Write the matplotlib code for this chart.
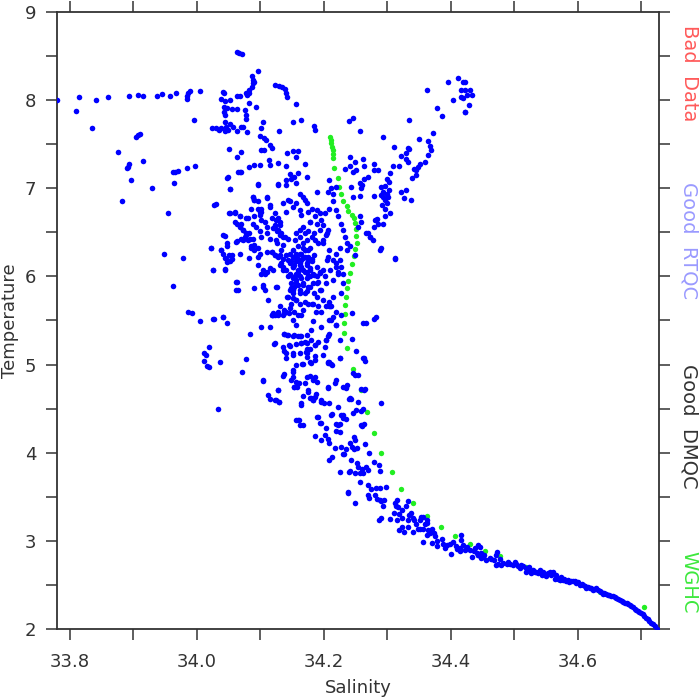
import numpy as np
import matplotlib
matplotlib.use("Agg")
import matplotlib.pyplot as plt
from matplotlib.ticker import MultipleLocator

# WGHC climatology profile (green)
wghc = [(34.210, 7.58), (34.211, 7.55), (34.212, 7.51), (34.213, 7.47), (34.214, 7.43),
        (34.215, 7.39), (34.215, 7.34), (34.217, 7.23), (34.222, 7.12), (34.224, 7.01),
        (34.228, 6.93), (34.231, 6.86), (34.236, 6.80), (34.239, 6.74), (34.244, 6.70),
        (34.247, 6.66), (34.250, 6.61), (34.251, 6.54), (34.251, 6.46), (34.252, 6.38),
        (34.250, 6.31), (34.247, 6.23), (34.244, 6.14), (34.241, 6.04), (34.238, 5.95),
        (34.236, 5.87), (34.235, 5.77), (34.233, 5.68), (34.233, 5.57), (34.232, 5.47),
        (34.232, 5.36), (34.236, 5.19), (34.246, 4.95), (34.258, 4.71), (34.268, 4.46),
        (34.279, 4.22), (34.291, 4.00), (34.307, 3.78), (34.321, 3.59), (34.340, 3.43),
        (34.362, 3.28), (34.384, 3.16), (34.406, 3.05), (34.430, 2.96), (34.454, 2.88),
        (34.477, 2.83), (34.518, 2.70), (34.572, 2.56), (34.635, 2.42), (34.704, 2.25)]

# Argo profiles (blue), grouped by area of the diagram
left_fringe = [(33.780, 8.00), (33.810, 7.88), (33.814, 8.03), (33.835, 7.68), (33.842, 8.00),
               (33.860, 8.04), (33.893, 8.05), (33.907, 8.06), (33.915, 8.05), (33.937, 8.05),
               (33.945, 8.07), (33.958, 8.05), (33.967, 8.08), (33.984, 8.01), (33.985, 8.05),
               (33.987, 8.08), (33.989, 8.10), (34.006, 8.10), (33.996, 7.78),
               (33.876, 7.41), (33.892, 7.24), (33.894, 7.27), (33.891, 7.23), (33.896, 7.09),
               (33.905, 7.58), (33.908, 7.60), (33.911, 7.61), (33.916, 7.31), (33.882, 6.85),
               (33.929, 7.00), (33.963, 7.18), (33.966, 7.19), (33.970, 7.20), (33.965, 7.06),
               (33.955, 6.72), (33.984, 7.23), (33.948, 6.25), (33.978, 6.21), (33.962, 5.89),
               (33.987, 5.60), (34.019, 5.20), (34.044, 6.46)]

upper_cap = [(34.063, 8.55), (34.066, 8.53), (34.071, 8.52), (34.096, 8.33), (34.087, 8.27),
             (34.089, 8.23), (34.089, 8.19), (34.090, 8.20), (34.087, 8.15), (34.083, 8.12),
             (34.082, 8.08), (34.079, 8.06), (34.077, 8.08), (34.064, 8.05), (34.068, 8.05),
             (34.041, 8.09), (34.043, 8.08), (34.039, 8.01), (34.044, 7.99), (34.052, 8.00),
             (34.043, 7.92), (34.047, 7.91), (34.056, 7.90), (34.063, 7.90), (34.082, 7.97),
             (34.094, 7.92), (34.076, 7.89), (34.078, 7.83), (34.077, 7.79), (34.043, 7.87),
             (34.044, 7.83), (34.024, 7.68), (34.031, 7.68), (34.035, 7.66), (34.039, 7.68),
             (34.046, 7.69), (34.052, 7.73), (34.057, 7.69), (34.044, 7.75), (34.044, 7.65),
             (34.049, 7.66), (34.063, 7.65), (34.069, 7.70), (34.073, 7.70), (34.079, 7.64),
             (34.104, 7.75), (34.101, 7.68), (34.124, 8.17), (34.129, 8.16), (34.134, 8.15),
             (34.139, 8.13), (34.141, 8.08), (34.143, 8.04), (34.157, 7.96), (34.129, 7.65),
             (34.152, 7.75)]

core = [(33.997, 7.25), (34.051, 7.44), (34.063, 7.36), (34.069, 7.41), (34.048, 7.12),
        (34.052, 6.99), (34.065, 7.18), (34.069, 7.19), (34.082, 7.24), (34.090, 7.26),
        (34.099, 7.26), (34.102, 7.43), (34.106, 7.43), (34.099, 7.59), (34.106, 7.57),
        (34.109, 7.55), (34.116, 7.49), (34.118, 7.46), (34.114, 7.32), (34.128, 7.29),
        (34.115, 7.26), (34.142, 7.40), (34.152, 7.42), (34.160, 7.42), (34.156, 7.36),
        (34.141, 7.25), (34.147, 7.16), (34.153, 7.13), (34.149, 7.10), (34.156, 7.06),
        (34.170, 7.28), (34.173, 7.13), (34.160, 7.17), (34.097, 7.05), (34.128, 7.05),
        (34.141, 7.09), (34.031, 6.82), (34.052, 6.72), (34.060, 6.73), (34.068, 6.69),
        (34.063, 6.60), (34.068, 6.56), (34.073, 6.53), (34.078, 6.47), (34.073, 6.41),
        (34.063, 6.40), (34.048, 6.38), (34.039, 6.30), (34.023, 6.32), (34.042, 6.26),
        (34.051, 6.24), (34.055, 6.20), (34.047, 6.16), (34.044, 6.08), (34.026, 6.07),
        (34.063, 5.94), (34.065, 5.85), (34.070, 6.43), (34.084, 6.43), (34.091, 6.36),
        (34.097, 6.32), (34.086, 6.32), (34.089, 6.90), (34.091, 6.87), (34.097, 6.85),
        (34.102, 6.77), (34.086, 6.77), (34.099, 6.73), (34.110, 6.89), (34.115, 6.79),
        (34.118, 6.66), (34.128, 6.66), (34.131, 6.62), (34.124, 6.58), (34.120, 6.55),
        (34.110, 6.56), (34.107, 6.62), (34.102, 6.64), (34.081, 6.66), (34.089, 6.60),
        (34.094, 6.56), (34.099, 6.51), (34.102, 6.45), (34.110, 6.49), (34.126, 6.51),
        (34.131, 6.47), (34.139, 6.45), (34.115, 6.43), (34.126, 6.38), (34.136, 6.36),
        (34.133, 6.30), (34.118, 6.28), (34.123, 6.24), (34.128, 6.22), (34.136, 6.20),
        (34.144, 6.19), (34.141, 6.24), (34.131, 6.13), (34.136, 6.11), (34.147, 6.15),
        (34.152, 6.11), (34.157, 6.17), (34.162, 6.13), (34.165, 6.19), (34.170, 6.22),
        (34.175, 6.17), (34.181, 6.20), (34.168, 6.07), (34.173, 6.05), (34.178, 6.09),
        (34.160, 6.05), (34.147, 6.03), (34.152, 5.98), (34.157, 5.96), (34.149, 5.92),
        (34.154, 5.88), (34.147, 5.85), (34.152, 5.81), (34.144, 5.77), (34.157, 5.73),
        (34.149, 5.69), (34.147, 5.64), (34.141, 5.60), (34.154, 5.60), (34.160, 5.56),
        (34.168, 5.62), (34.162, 5.69), (34.170, 5.81), (34.175, 5.88), (34.168, 5.92),
        (34.183, 5.92), (34.191, 5.94), (34.189, 6.00), (34.194, 6.05), (34.199, 6.07),
        (34.202, 6.00), (34.204, 5.92), (34.196, 5.85), (34.189, 5.77), (34.183, 5.69),
        (34.191, 5.66), (34.196, 5.60), (34.204, 5.66), (34.209, 5.71), (34.212, 5.66),
        (34.220, 5.60), (34.215, 5.54), (34.209, 5.50), (34.220, 5.45), (34.244, 5.58),
        (34.262, 5.47), (34.280, 5.52), (34.102, 6.03), (34.110, 6.05), (34.105, 5.90),
        (34.126, 5.88), (34.112, 5.73), (34.118, 5.56), (34.120, 5.58), (34.128, 5.60),
        (34.136, 5.56), (34.115, 5.43), (34.102, 5.43), (34.042, 5.54), (34.047, 5.47),
        (34.028, 5.52), (34.005, 5.49), (33.992, 5.59),
        (34.162, 6.94), (34.168, 6.90), (34.170, 6.87), (34.173, 6.83), (34.157, 6.83),
        (34.152, 6.79), (34.147, 6.85), (34.141, 6.73), (34.162, 6.75), (34.165, 6.70),
        (34.175, 6.73), (34.181, 6.77), (34.189, 6.75), (34.194, 6.72), (34.186, 6.68),
        (34.178, 6.62), (34.168, 6.56), (34.162, 6.53), (34.170, 6.49), (34.175, 6.51),
        (34.181, 6.45), (34.186, 6.41), (34.191, 6.38), (34.199, 6.41), (34.204, 6.47),
        (34.207, 6.53), (34.199, 6.58), (34.196, 6.64), (34.202, 6.72), (34.209, 6.77),
        (34.215, 6.85), (34.220, 6.75), (34.223, 6.68), (34.228, 6.60), (34.231, 6.53),
        (34.233, 6.45), (34.236, 6.38), (34.236, 6.30), (34.225, 6.32), (34.220, 6.26),
        (34.215, 6.19), (34.207, 6.22), (34.209, 6.30), (34.220, 6.15), (34.228, 6.11),
        (34.231, 6.03), (34.223, 6.05), (34.189, 6.96), (34.209, 7.09), (34.212, 7.00),
        (34.215, 6.94), (34.207, 6.96), (34.220, 7.02),
        (34.147, 6.26), (34.152, 6.22), (34.157, 6.26), (34.149, 6.17), (34.154, 6.13),
        (34.160, 6.20), (34.162, 6.26), (34.170, 6.30), (34.165, 6.11), (34.157, 6.03),
        (34.162, 6.00), (34.141, 6.07), (34.144, 6.00), (34.149, 5.87), (34.160, 5.90),
        (34.152, 5.75), (34.162, 5.85), (34.173, 5.98), (34.178, 6.00), (34.183, 6.03),
        (34.173, 6.15), (34.168, 6.32), (34.175, 6.30), (34.152, 6.30),
        (34.283, 6.64), (34.280, 6.56), (34.294, 6.60), (34.267, 6.49), (34.273, 6.45),
        (34.278, 6.41), (34.259, 6.62), (34.254, 6.56), (34.241, 6.34), (34.249, 6.24),
        (34.291, 6.32), (34.312, 6.20)]

core_fill = [(34.157, 6.49), (34.163, 6.45), (34.155, 6.41), (34.168, 6.38), (34.173, 6.41),
             (34.160, 6.34), (34.170, 6.30), (34.165, 6.26), (34.178, 6.32), (34.157, 6.22),
             (34.168, 6.21), (34.176, 6.22), (34.184, 6.24), (34.163, 6.15), (34.173, 6.13),
             (34.181, 6.17), (34.152, 6.11), (34.160, 6.07), (34.170, 6.05), (34.178, 6.07),
             (34.189, 6.11), (34.155, 6.00), (34.165, 5.98), (34.176, 6.00), (34.184, 6.02),
             (34.194, 6.04), (34.157, 5.92), (34.168, 5.90), (34.178, 5.88), (34.189, 5.92),
             (34.152, 5.85), (34.163, 5.81), (34.173, 5.83), (34.184, 5.81), (34.194, 5.85),
             (34.142, 5.77), (34.157, 5.73), (34.170, 5.71), (34.181, 5.69), (34.199, 5.73),
             (34.205, 6.19), (34.210, 6.07), (34.215, 5.96), (34.220, 6.11), (34.226, 6.19),
             (34.223, 6.03), (34.231, 5.92), (34.228, 5.81), (34.215, 5.77), (34.210, 5.66),
             (34.194, 6.53), (34.205, 6.49), (34.199, 6.38), (34.184, 6.49), (34.189, 6.60),
             (34.178, 6.62), (34.270, 6.49), (34.273, 6.45), (34.289, 6.30), (34.312, 6.21),
             (34.281, 6.64), (34.286, 6.60),
             (34.120, 5.56), (34.128, 5.56), (34.138, 5.58), (34.146, 5.58), (34.152, 5.51),
             (34.157, 5.45), (34.165, 5.56), (34.175, 5.69), (34.183, 5.49), (34.180, 5.39),
             (34.196, 5.43), (34.209, 5.66), (34.212, 5.51), (34.220, 5.45), (34.209, 5.35),
             (34.204, 5.28), (34.188, 5.60), (34.228, 5.56), (34.138, 5.35), (34.144, 5.34),
             (34.154, 5.34), (34.162, 5.32), (34.173, 5.34), (34.180, 5.28), (34.165, 5.24),
             (34.173, 5.24), (34.186, 5.22), (34.123, 5.24), (34.146, 5.22), (34.138, 5.15),
             (34.152, 5.13), (34.162, 5.13), (34.173, 5.13), (34.178, 5.03), (34.167, 5.01),
             (34.157, 4.99), (34.186, 5.05), (34.207, 5.03), (34.212, 5.01), (34.225, 5.07),
             (34.251, 5.15), (34.264, 5.07), (34.152, 4.92), (34.149, 4.82), (34.154, 4.75),
             (34.173, 4.86), (34.183, 4.82), (34.188, 4.67), (34.178, 4.62), (34.183, 4.60),
             (34.196, 4.60), (34.209, 4.56), (34.220, 4.82), (34.230, 4.75), (34.236, 4.77),
             (34.241, 4.62), (34.222, 4.52), (34.207, 4.73), (34.175, 4.71), (34.167, 4.64),
             (34.165, 4.56), (34.128, 4.71), (34.115, 4.61), (34.125, 4.60), (34.130, 4.58),
             (34.104, 4.82), (34.159, 4.37), (34.162, 4.31), (34.191, 4.41), (34.212, 4.43),
             (34.228, 4.43), (34.230, 4.39), (34.222, 4.31), (34.259, 4.47), (34.264, 4.33),
             (34.259, 4.31), (34.251, 4.48), (34.249, 4.88), (34.264, 4.71), (34.225, 5.28),
             (34.267, 5.47), (34.283, 5.54),
             (34.068, 7.19), (34.049, 7.13), (34.052, 6.99), (34.028, 6.81), (34.051, 6.72),
             (34.060, 6.72), (34.068, 6.68), (34.060, 6.62), (34.070, 6.60), (34.078, 6.66),
             (34.088, 6.90), (34.091, 6.87), (34.097, 6.77), (34.102, 6.73), (34.099, 6.70),
             (34.091, 6.68), (34.110, 6.90), (34.115, 6.81), (34.128, 7.04), (34.097, 7.04),
             (34.141, 7.04), (34.123, 6.72), (34.125, 6.64), (34.131, 6.58), (34.128, 6.53),
             (34.123, 6.55), (34.133, 6.49), (34.136, 6.45), (34.125, 6.41), (34.144, 6.43),
             (34.073, 6.53), (34.078, 6.49), (34.083, 6.49), (34.076, 6.45), (34.081, 6.41),
             (34.089, 6.43), (34.086, 6.34), (34.091, 6.30), (34.083, 6.21), (34.097, 6.22),
             (34.099, 6.26), (34.110, 6.28), (34.118, 6.28), (34.123, 6.24), (34.131, 6.24),
             (34.133, 6.15), (34.041, 6.47), (34.047, 6.34), (34.039, 6.30), (34.044, 6.21),
             (34.047, 6.19), (34.055, 6.24), (34.052, 6.17), (34.023, 6.32), (34.026, 6.07),
             (34.044, 6.07), (34.062, 6.39), (34.068, 6.26), (34.097, 6.13), (34.104, 6.07),
             (34.107, 6.03), (34.115, 6.09), (34.120, 6.07), (34.136, 6.07), (34.125, 5.88),
             (34.062, 5.94), (34.062, 5.85), (34.091, 5.87), (34.104, 5.88), (34.107, 5.85),
             (34.131, 5.66), (34.118, 5.56), (34.123, 5.56), (34.128, 5.58), (34.138, 5.62),
             (34.026, 5.52), (34.041, 5.54), (34.136, 6.83), (34.144, 6.87)]

upper_right = [(34.165, 7.77), (34.184, 7.71), (34.187, 7.66), (34.240, 7.76), (34.246, 7.80),
               (34.257, 7.65), (34.363, 8.12), (34.396, 8.21), (34.411, 8.25), (34.404, 8.00),
               (34.378, 7.91), (34.386, 7.82), (34.334, 7.77), (34.372, 7.63), (34.350, 7.56),
               (34.293, 7.58), (34.365, 7.54), (34.367, 7.48), (34.369, 7.43), (34.365, 7.38),
               (34.359, 7.30), (34.352, 7.28), (34.348, 7.24), (34.345, 7.21), (34.339, 7.12),
               (34.346, 7.15), (34.342, 7.22), (34.311, 7.47), (34.321, 7.37), (34.330, 7.40),
               (34.333, 7.46), (34.335, 7.45), (34.329, 7.33), (34.333, 7.30), (34.309, 7.25),
               (34.318, 7.25), (34.305, 7.17), (34.300, 7.10), (34.303, 7.07), (34.296, 7.03),
               (34.291, 7.02), (34.293, 6.96), (34.299, 6.94), (34.303, 6.98), (34.291, 6.92),
               (34.293, 6.90), (34.296, 6.87), (34.301, 6.90), (34.299, 6.83), (34.292, 6.81),
               (34.296, 6.77), (34.304, 6.72), (34.297, 6.69), (34.284, 6.65), (34.321, 6.96),
               (34.329, 6.98), (34.327, 6.89), (34.338, 6.87), (34.279, 6.91), (34.279, 7.28),
               (34.280, 7.21), (34.285, 7.21), (34.262, 7.33), (34.263, 7.25), (34.269, 7.13),
               (34.264, 7.11), (34.260, 7.04), (34.257, 7.06), (34.259, 7.00), (34.249, 7.30),
               (34.241, 7.36), (34.242, 7.25), (34.246, 7.18), (34.234, 7.22), (34.251, 7.21),
               (34.243, 7.02), (34.246, 6.90), (34.257, 6.91), (34.257, 6.69),
               (34.420, 8.21), (34.422, 8.20), (34.417, 8.12), (34.422, 8.11), (34.430, 8.11),
               (34.434, 8.06), (34.425, 8.06), (34.420, 8.02), (34.429, 7.95), (34.422, 7.87),
               (34.423, 7.86), (34.417, 8.04)]

mid = [(34.084, 5.35), (34.122, 5.23), (34.137, 5.35), (34.142, 5.34), (34.136, 5.20),
       (34.147, 5.21), (34.157, 5.23), (34.152, 5.32), (34.160, 5.32), (34.165, 5.32),
       (34.170, 5.26), (34.164, 5.24), (34.173, 5.18), (34.179, 5.18), (34.186, 5.22),
       (34.191, 5.26), (34.204, 5.28), (34.207, 5.32), (34.202, 5.20), (34.244, 5.29),
       (34.246, 4.90), (34.254, 4.88), (34.259, 4.72), (34.265, 4.72), (34.243, 4.61),
       (34.254, 4.57), (34.262, 4.50), (34.246, 4.45), (34.291, 4.56), (34.262, 5.07),
       (34.265, 5.04),
       (34.012, 5.13), (34.014, 5.11), (34.012, 5.04), (34.016, 4.98), (34.019, 4.97),
       (34.037, 5.03), (34.034, 4.50), (34.072, 4.92), (34.078, 5.06), (34.104, 4.81),
       (34.113, 4.66), (34.128, 4.71), (34.124, 4.60), (34.130, 4.57), (34.136, 4.87),
       (34.137, 4.89), (34.140, 5.13), (34.141, 5.08), (34.152, 5.11), (34.151, 4.94),
       (34.152, 4.86), (34.156, 4.80), (34.154, 4.75), (34.158, 4.75), (34.161, 4.79),
       (34.164, 4.54), (34.157, 4.37), (34.161, 4.37), (34.167, 4.31), (34.166, 5.01),
       (34.170, 4.79), (34.172, 5.14), (34.173, 5.09), (34.178, 4.87), (34.175, 4.69),
       (34.180, 4.62), (34.183, 4.60), (34.186, 4.63), (34.180, 5.02), (34.186, 5.10),
       (34.187, 4.86), (34.189, 4.80), (34.189, 4.41), (34.186, 4.19), (34.194, 4.34),
       (34.196, 4.34), (34.195, 4.14), (34.195, 4.57), (34.200, 4.56), (34.199, 5.11),
       (34.203, 4.28), (34.202, 4.20), (34.207, 4.75), (34.207, 5.02), (34.209, 5.03),
       (34.213, 4.99), (34.218, 4.79), (34.207, 4.16), (34.209, 4.11), (34.208, 3.92),
       (34.213, 3.95), (34.213, 4.44), (34.220, 4.33), (34.225, 4.33), (34.220, 4.25),
       (34.226, 4.24), (34.218, 4.05), (34.228, 4.07), (34.226, 3.78), (34.230, 3.98),
       (34.232, 3.98), (34.235, 4.04), (34.238, 3.54), (34.240, 3.78), (34.235, 4.38),
       (34.230, 4.43), (34.235, 4.73), (34.240, 4.61), (34.226, 5.07)]

lower = [(34.260, 4.30), (34.247, 4.18), (34.249, 4.14), (34.242, 4.11), (34.244, 4.07),
         (34.247, 4.04), (34.252, 4.05), (34.265, 4.10), (34.272, 4.00), (34.243, 3.92),
         (34.252, 3.88), (34.254, 3.84), (34.260, 3.82), (34.266, 3.84), (34.269, 3.80),
         (34.262, 3.77), (34.257, 3.77), (34.249, 3.77), (34.257, 3.67), (34.280, 3.89),
         (34.287, 3.86), (34.289, 3.79), (34.241, 3.79), (34.239, 3.55), (34.249, 3.43),
         (34.269, 3.63), (34.275, 3.59), (34.282, 3.60), (34.289, 3.60), (34.298, 3.61),
         (34.269, 3.52), (34.272, 3.49), (34.281, 3.52), (34.284, 3.48), (34.289, 3.46),
         (34.291, 3.45), (34.295, 3.46), (34.294, 3.40), (34.287, 3.24), (34.290, 3.26),
         (34.305, 3.25), (34.310, 3.32), (34.314, 3.40), (34.312, 3.43), (34.316, 3.46),
         (34.317, 3.38), (34.323, 3.35), (34.329, 3.39), (34.332, 3.45), (34.319, 3.30),
         (34.315, 3.24), (34.324, 3.26), (34.333, 3.24), (34.340, 3.26), (34.338, 3.32),
         (34.335, 3.29), (34.343, 3.24), (34.346, 3.19), (34.352, 3.13), (34.341, 3.10),
         (34.333, 3.16), (34.323, 3.16), (34.318, 3.12), (34.326, 3.10), (34.349, 3.14),
         (34.357, 3.13), (34.359, 3.19), (34.362, 3.20), (34.365, 3.12), (34.370, 3.13),
         (34.373, 3.09), (34.375, 3.05), (34.367, 3.09), (34.362, 3.07), (34.357, 2.99),
         (34.370, 2.98), (34.378, 3.00), (34.386, 3.02), (34.388, 2.97), (34.394, 2.95),
         (34.391, 2.92), (34.401, 2.85), (34.399, 2.97), (34.404, 2.99), (34.409, 2.94),
         (34.417, 3.01), (34.417, 3.07), (34.420, 2.95), (34.425, 2.93), (34.430, 2.90),
         (34.436, 2.88), (34.441, 2.86), (34.433, 2.82), (34.443, 2.84), (34.438, 2.92),
         (34.410, 2.91), (34.415, 2.92), (34.415, 2.88), (34.422, 2.90), (34.378, 2.94),
         (34.357, 3.27), (34.362, 3.24), (34.352, 3.24), (34.354, 3.27)]

tail = [(34.443, 2.95), (34.446, 2.93), (34.448, 2.86), (34.443, 2.84), (34.451, 2.82),
        (34.453, 2.84), (34.447, 2.81), (34.462, 2.81), (34.464, 2.79), (34.468, 2.78),
        (34.472, 2.84), (34.473, 2.87), (34.471, 2.73), (34.474, 2.74), (34.477, 2.79),
        (34.482, 2.75), (34.488, 2.74), (34.493, 2.74), (34.498, 2.73), (34.501, 2.76),
        (34.503, 2.74), (34.506, 2.71), (34.509, 2.69), (34.514, 2.71), (34.518, 2.69),
        (34.522, 2.67), (34.524, 2.70), (34.530, 2.67), (34.532, 2.65), (34.527, 2.63),
        (34.535, 2.65), (34.537, 2.63), (34.543, 2.61), (34.545, 2.65), (34.548, 2.62),
        (34.553, 2.63), (34.558, 2.61), (34.561, 2.65), (34.564, 2.57), (34.569, 2.57),
        (34.574, 2.59), (34.579, 2.57), (34.585, 2.56), (34.590, 2.55), (34.595, 2.54),
        (34.600, 2.53), (34.606, 2.51), (34.611, 2.49), (34.616, 2.48), (34.621, 2.46),
        (34.627, 2.45), (34.632, 2.44), (34.637, 2.42), (34.642, 2.41), (34.648, 2.39),
        (34.653, 2.37), (34.658, 2.36), (34.663, 2.34), (34.669, 2.32), (34.674, 2.30),
        (34.679, 2.28), (34.684, 2.26), (34.690, 2.23), (34.695, 2.21), (34.700, 2.18),
        (34.705, 2.15), (34.711, 2.11), (34.716, 2.07), (34.721, 2.03), (34.725, 2.00),
        (34.577, 2.56), (34.582, 2.54), (34.587, 2.53), (34.593, 2.55), (34.598, 2.52),
        (34.603, 2.50), (34.608, 2.50), (34.613, 2.47), (34.619, 2.46), (34.624, 2.44),
        (34.629, 2.46), (34.635, 2.43), (34.640, 2.40), (34.645, 2.40), (34.650, 2.39),
        (34.655, 2.37), (34.661, 2.35), (34.666, 2.33), (34.671, 2.31), (34.677, 2.29),
        (34.682, 2.27), (34.687, 2.25), (34.692, 2.22), (34.697, 2.19), (34.703, 2.17),
        (34.708, 2.13), (34.713, 2.09), (34.718, 2.06),
        (34.456, 2.78), (34.480, 2.73), (34.490, 2.76), (34.511, 2.73), (34.519, 2.65),
        (34.540, 2.67), (34.550, 2.60), (34.556, 2.65), (34.566, 2.61), (34.572, 2.56)]

side_labels = ["Bad Data", "Good RTQC", "Good DMQC", "WGHC"]
side_colors = ["#ff5a5a", "#9a9aff", "#333333", "#3de83d"]
side_ypos = [0.900, 0.630, 0.329, 0.076]

argo = np.array(left_fringe + upper_cap + core + core_fill + upper_right + mid + lower + tail)
clim = np.array(wghc)

plt.rcParams['font.family'] = ['DejaVu Sans']
txt = "#333333"

fig = plt.figure(figsize=(7, 7), dpi=100)
ax = fig.add_axes([0.0814, 0.1014, 0.86, 0.8815])

ax.scatter(clim[:, 0], clim[:, 1], s=15, color="#22ee22", linewidths=0, zorder=2)
ax.scatter(argo[:, 0], argo[:, 1], s=16, color="#0000ff", linewidths=0, zorder=3)

ax.set_xlim(33.78, 34.728)
ax.set_ylim(2, 9)
ax.xaxis.set_major_locator(MultipleLocator(0.2))
ax.xaxis.set_minor_locator(MultipleLocator(0.1))
ax.yaxis.set_major_locator(MultipleLocator(1))
ax.yaxis.set_minor_locator(MultipleLocator(0.5))
ax.xaxis.set_major_formatter(matplotlib.ticker.FormatStrFormatter('%.1f'))

for which in ("major", "minor"):
    ax.tick_params(which=which, direction="out", length=8, width=1.1, color="#333333",
                   top=True, right=True, labelsize=13, labelcolor=txt)
ax.tick_params(axis="x", pad=9)
ax.tick_params(axis="y", pad=7)
for sp in ax.spines.values():
    sp.set_linewidth(1.3)
    sp.set_color("#333333")

ax.set_xlabel("Salinity", fontsize=13, color=txt, labelpad=6)
ax.set_ylabel("Temperature", fontsize=13, color=txt, labelpad=4)

for lab, col, yp in zip(side_labels, side_colors, side_ypos):
    ax.text(1.05, yp, lab.replace(" ", "  "), transform=ax.transAxes, rotation=-90,
            color=col, fontsize=14, ha="center", va="center")

fig.savefig("out.png", dpi=100)
